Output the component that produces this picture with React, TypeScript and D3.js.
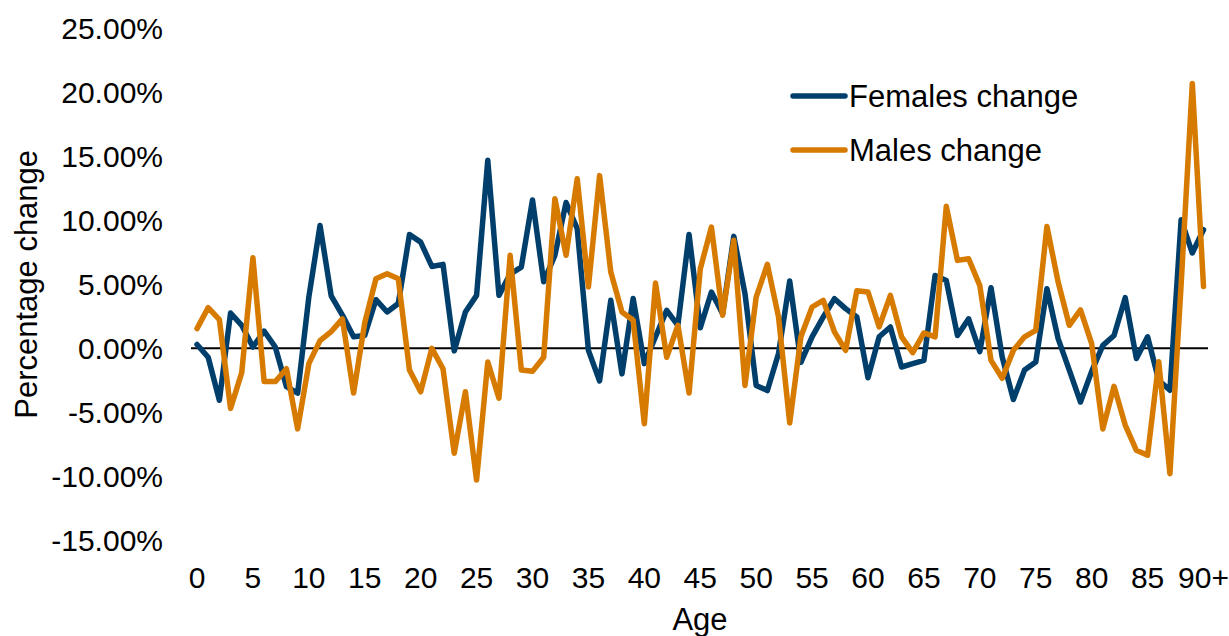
import React from "react";
import * as d3 from "d3";

const ages: number[] = Array.from({ length: 91 }, (_, i) => i);
const tickAges: number[] = [0, 5, 10, 15, 20, 25, 30, 35, 40, 45, 50, 55, 60, 65, 70, 75, 80, 85, 90];
const tickAgeLabels: string[] = ["0", "5", "10", "15", "20", "25", "30", "35", "40", "45", "50", "55", "60", "65", "70", "75", "80", "85", "90+"];
const yTicks: number[] = [25, 20, 15, 10, 5, 0, -5, -10, -15];

const femalesChange: number[] = [
  0.3, -0.7, -4.06, 2.76, 1.8, 0.1, 1.35, 0.1, -3.0, -3.5,
  4.0, 9.6, 4.1, 2.6, 0.9, 1.0, 3.8, 2.84, 3.5, 8.9,
  8.3, 6.4, 6.56, -0.2, 2.84, 4.14, 14.7, 4.14, 5.8, 6.35,
  11.6, 5.2, 7.27, 11.4, 9.35, -0.16, -2.55, 3.75, -2.0, 3.9,
  -1.2, 0.9, 2.97, 1.8, 8.9, 1.6, 4.4, 2.7, 8.75, 4.27,
  -2.9, -3.3, -0.4, 5.26, -1.1, 0.9, 2.45, 3.88, 3.1, 2.45,
  -2.3, 0.9, 1.67, -1.46, -1.2, -0.94, 5.7, 5.3, 1.0, 2.3,
  -0.26, 4.74, -0.68, -4.0, -1.7, -1.07, 4.66, 0.76, -1.7, -4.2,
  -1.8, 0.23, 1.0, 3.96, -0.8, 0.9, -2.5, -3.28, 10.05, 7.45,
  9.27,
];

const malesChange: number[] = [
  1.54, 3.18, 2.24, -4.7, -1.9, 7.08, -2.6, -2.6, -1.6, -6.3,
  -1.2, 0.6, 1.3, 2.3, -3.5, 2.0, 5.44, 5.83, 5.44, -1.7,
  -3.4, 0, -1.6, -8.2, -3.4, -10.3, -1.07, -3.9, 7.27, -1.7,
  -1.8, -0.7, 11.7, 7.27, 13.26, 4.8, 13.5, 5.96, 2.84, 2.19,
  -5.9, 5.1, -0.7, 1.8, -3.5, 6.2, 9.48, 2.58, 8.44, -2.9,
  4.0, 6.56, 2.45, -5.83, 0.9, 3.23, 3.75, 1.28, -0.16, 4.5,
  4.4, 1.67, 4.14, 0.9, -0.34, 1.2, 0.9, 11.1, 6.875, 7.0,
  4.9, -0.94, -2.34, -0.16, 0.9, 1.4, 9.53, 5.18, 1.8, 3.0,
  0.36, -6.3, -2.97, -6.0, -7.97, -8.36, -1.05, -9.8, 5.0, 20.7,
  4.84,
];

const seriesNames: string[] = ["Females change", "Males change"];
const seriesColors: string[] = ["#003F6C", "#D67B00"];

const FONT = "'Liberation Sans', Arial, Helvetica, sans-serif";

export default function App() {
  const W = 1229;
  const H = 636;
  const x = d3.scaleLinear().domain([0, 90]).range([197, 1203.5]);
  const y = d3.scaleLinear().domain([-15, 25]).range([540.2, 28.5]);

  const line = d3
    .line<number>()
    .x((_, i) => x(ages[i]))
    .y((d) => y(d));

  const series = [femalesChange, malesChange];

  return (
    <svg
      width={W}
      height={H}
      style={{ position: "absolute", left: 0, top: 0, background: "#fff" }}
      fontFamily={FONT}
    >
      <rect x={0} y={0} width={W} height={H} fill="#fff" />
      {yTicks.map((t) => (
        <text key={t} x={163} y={y(t)} dy="0.36em" textAnchor="end" fontSize={30} fill="#000">
          {t.toFixed(2) + "%"}
        </text>
      ))}
      {tickAges.map((a, i) => (
        <text key={a} x={x(a)} y={588} textAnchor="middle" fontSize={30} fill="#000">
          {tickAgeLabels[i]}
        </text>
      ))}
      <text x={700} y={630} textAnchor="middle" fontSize={31} fill="#000">
        Age
      </text>
      <text
        transform={`translate(37, ${y(5)}) rotate(-90)`}
        textAnchor="middle"
        fontSize={31}
        fill="#000"
      >
        Percentage change
      </text>
      <line x1={191} x2={1208} y1={y(0)} y2={y(0)} stroke="#000" strokeWidth={2} />
      {series.map((s, k) => (
        <path
          key={k}
          d={line(s) || ""}
          fill="none"
          stroke={seriesColors[k]}
          strokeWidth={5.5}
          strokeLinejoin="round"
          strokeLinecap="round"
        />
      ))}
      {seriesNames.map((n, k) => (
        <g key={n} transform={`translate(0, ${96 + k * 54})`}>
          <line x1={793} x2={845} y1={0} y2={0} stroke={seriesColors[k]} strokeWidth={5.5} strokeLinecap="round" />
          <text x={849} y={0} dy="0.36em" fontSize={31} fill="#000">
            {n}
          </text>
        </g>
      ))}
    </svg>
  );
}
